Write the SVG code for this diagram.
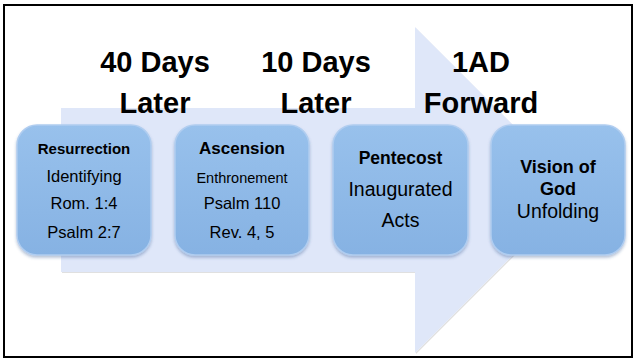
<svg xmlns="http://www.w3.org/2000/svg" width="637" height="362" viewBox="0 0 637 362">
<defs>
<linearGradient id="bg" x1="0" y1="0" x2="0" y2="1">
<stop offset="0" stop-color="#98c1ec"/>
<stop offset="1" stop-color="#86b2e3"/>
</linearGradient>
<filter id="sh" x="-10%" y="-10%" width="120%" height="125%">
<feDropShadow dx="0" dy="2" stdDeviation="1.5" flood-color="#27508a" flood-opacity="0.35"/>
</filter>
<filter id="ash" x="-5%" y="-5%" width="110%" height="110%">
<feDropShadow dx="1" dy="1" stdDeviation="0.6" flood-color="#000" flood-opacity="0.12"/>
</filter>
</defs>
<style>
.box{fill:url(#bg);stroke:#b0cdf0;stroke-width:1.5;filter:url(#sh)}
text{font-family:"Liberation Sans",Arial,sans-serif;fill:#000;text-anchor:middle}
.h{font-size:29px;font-weight:bold}
.b{font-weight:bold}
</style>
<rect x="0" y="0" width="637" height="362" fill="#fff"/>
<rect x="4" y="5" width="628" height="352" fill="none" stroke="#000" stroke-width="2"/>
<g id="arrow">
<polygon points="61,108 415,108 415,27 578,190 415,353 415,272 61,272" fill="#dfe7f9" filter="url(#ash)"/>
</g>
<g id="labels">
<text class="h" x="155" y="72">40 Days</text>
<text class="h" x="155" y="113">Later</text>
<text class="h" x="316" y="72">10 Days</text>
<text class="h" x="316" y="113">Later</text>
<text class="h" x="481" y="72">1AD</text>
<text class="h" x="481" y="113">Forward</text>
</g>
<g id="n1">
<rect class="box" x="17" y="125" width="134" height="130" rx="20"/>
<text class="b" x="84" y="154" font-size="15">Resurrection</text>
<text x="84" y="182" font-size="16.5">Identifying</text>
<text x="84" y="209" font-size="16.5">Rom. 1:4</text>
<text x="84" y="238" font-size="16.5">Psalm 2:7</text>
</g>
<g id="n2">
<rect class="box" x="175" y="125" width="134" height="130" rx="20"/>
<text class="b" x="242" y="154" font-size="17">Ascension</text>
<text x="242" y="183" font-size="14.5">Enthronement</text>
<text x="242" y="209" font-size="16.5">Psalm 110</text>
<text x="242" y="238" font-size="16.5">Rev. 4, 5</text>
</g>
<g id="n3">
<rect class="box" x="333" y="125" width="135" height="130" rx="20"/>
<text class="b" x="400.5" y="164" font-size="17.5">Pentecost</text>
<text x="400.5" y="196" font-size="19.5">Inaugurated</text>
<text x="400.5" y="227" font-size="19.5">Acts</text>
</g>
<g id="n4">
<rect class="box" x="491" y="125" width="134" height="130" rx="20"/>
<text class="b" x="558" y="173" font-size="18">Vision of</text>
<text class="b" x="558" y="195" font-size="18">God</text>
<text x="558" y="218" font-size="19.5">Unfolding</text>
</g>
<g id="connectors"></g>
</svg>
